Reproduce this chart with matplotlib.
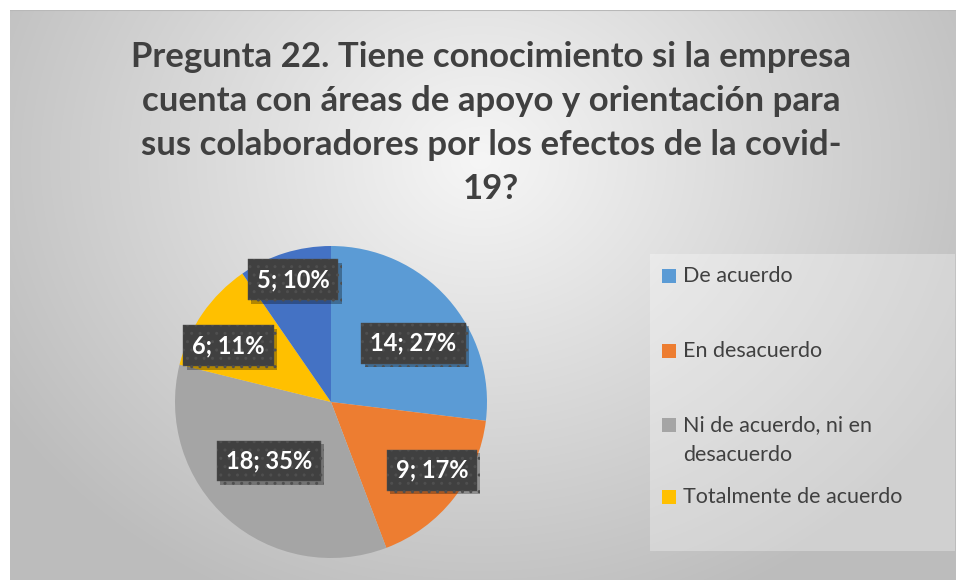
import numpy as np
import matplotlib
matplotlib.use('Agg')
import matplotlib.pyplot as plt
import matplotlib.patheffects as pe
from matplotlib.patches import Rectangle

plt.rcParams['font.family'] = ['Lato', 'DejaVu Sans']

# data
categories = ['De acuerdo', 'En desacuerdo', 'Ni de acuerdo, ni en\ndesacuerdo',
              'Totalmente de acuerdo', 'Totalmente en desacuerdo']
values = [14, 9, 18, 6, 5]
pct_labels = ['27%', '17%', '35%', '11%', '10%']
colors = ['#5B9BD5', '#ED7D31', '#A5A5A5', '#FFC000', '#4472C4']
n_legend = 4  # the legend in the original only shows four entries

title = ('Pregunta 22. Tiene conocimiento si la empresa\n'
         'cuenta con áreas de apoyo y orientación para\n'
         'sus colaboradores por los efectos de la covid-\n'
         '19?')

W, H = 956, 580
fig = plt.figure(figsize=(W/100, H/100), dpi=100)
fig.patch.set_facecolor('white')

# radial gradient background
bg = fig.add_axes([10/W, 0, (W-10)/W, (H-10)/H])
yy, xx = np.mgrid[0:570, 0:946]
d = np.sqrt(((xx-470)/560.0)**2 + ((yy-150)/480.0)**2)
d = np.clip(d, 0, 1)
g = 0.965 - 0.225*d
bg.imshow(np.dstack([g, g, g]), aspect='auto', extent=[0, 1, 0, 1], origin='upper')
bg.axhline(1, color='#b8b8b8', lw=1.5)
bg.set_xlim(0, 1)
bg.set_ylim(0, 1)
bg.axis('off')

# title
fig.text(491/W, 1-123/H, title, ha='center', va='center', fontsize=25,
         fontweight='bold', color='#404040', linespacing=1.47)

# pie
cx, cy, r = 331, 402, 156
half = 170
ax = fig.add_axes([(cx-half)/W, (H-cy-half)/H, 2*half/W, 2*half/H])
lim = half/r
wedges, _ = ax.pie(values, colors=colors, startangle=90, counterclock=False,
                   radius=1, wedgeprops=dict(linewidth=0))
ax.set_xlim(-lim, lim)
ax.set_ylim(-lim, lim)
ax.set_aspect('equal')
ax.axis('off')

# data labels
lab_r = [0.65, 0.78, 0.55, 0.75, 0.82]
lab_da = [-6, 4, -5, 6, 0]
for i, w in enumerate(wedges):
    ang = np.deg2rad((w.theta1 + w.theta2)/2 + lab_da[i])
    x, y = lab_r[i]*np.cos(ang), lab_r[i]*np.sin(ang)
    txt = '%d; %s' % (values[i], pct_labels[i])
    t = ax.text(x, y, txt, ha='center', va='center', fontsize=17, fontweight='bold',
                color='white',
                bbox=dict(boxstyle='square,pad=0.38', fc='#404040', ec='#4f4f4f',
                          lw=0.3, hatch='..'))
    t.get_bbox_patch().set_path_effects([
        pe.SimplePatchShadow(offset=(2.5, -2.5), shadow_rgbFace='black', alpha=0.3),
        pe.Normal()])

# legend
fig.patches.append(Rectangle((650/W, 1-551/H), 305/W, 297/H, transform=fig.transFigure,
                             facecolor='white', alpha=0.3, edgecolor='none'))
leg_y = [276, 351, 440, 497]
for i in range(n_legend):
    y = 1 - leg_y[i]/H
    sq_y = y if '\n' not in categories[i] else y + 15/H
    fig.patches.append(Rectangle((662/W, sq_y - 7/H), 14/W, 14/H, transform=fig.transFigure,
                                 facecolor=colors[i], edgecolor='none'))
    fig.text(683/W, y, categories[i], ha='left', va='center', fontsize=15.5,
             color='#404040', linespacing=1.6)

plt.savefig('out.png', dpi=100)
